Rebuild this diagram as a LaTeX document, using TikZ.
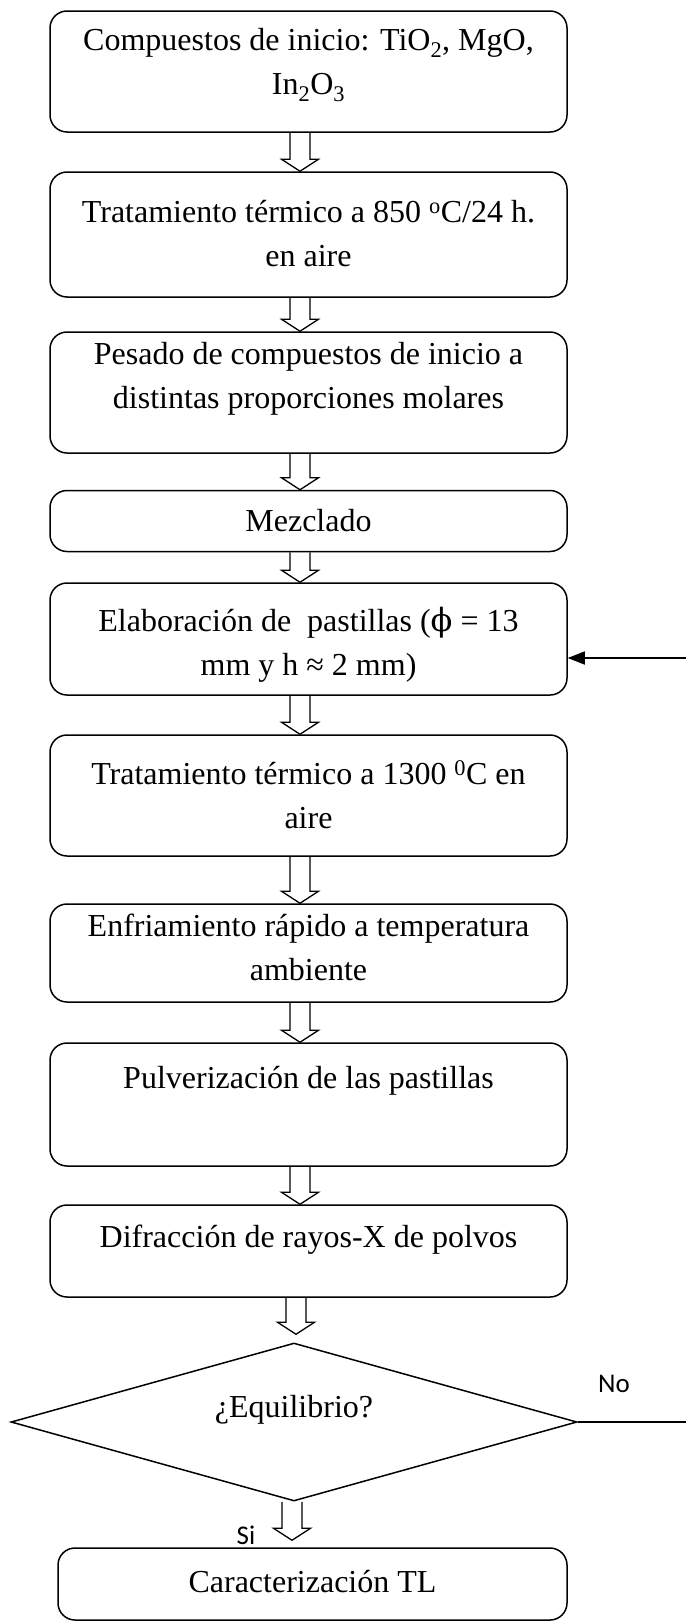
\documentclass[tikz,border=0pt]{standalone}
\usepackage{fontspec}
\setmainfont{Liberation Serif}
\newfontfamily\sansf{Carlito}
\newfontfamily\phifont{DejaVu Serif}
\usetikzlibrary{calc,arrows.meta,shapes.geometric}
\tikzset{
  box/.style={draw, line width=1.5pt, rounded corners=17pt, minimum width=517pt, inner sep=0pt},
  txt/.style={align=center, font=\fontsize{32}{44}\selectfont, inner sep=0pt},
  harrow/.style={draw, line width=1.3pt, line join=miter},
  lbl/.style={font=\sansf\fontsize{27}{32}\selectfont, inner sep=0pt},
  conn/.style={line width=1.5pt},
}
\newcommand{\harr}[4]{%
  \draw[harrow] let \p1=(#1.south), \p2=(#2.north) in
    (#3pt-10pt,\y1) -- (#3pt-10pt,\y2+#4pt+12pt) -- (#3pt-18.5pt,\y2+#4pt+12pt)
    -- (#3pt,\y2+#4pt) -- (#3pt+18.5pt,\y2+#4pt+12pt) -- (#3pt+10pt,\y2+#4pt+12pt)
    -- (#3pt+10pt,\y1);}
\begin{document}
\begin{tikzpicture}[x=1pt,y=-1pt]
\useasboundingbox (0,0) rectangle (686,1622);
% boxes
\node[box, minimum height=121pt] (b1) at (308.5,71.5) {};
\node[box, minimum height=125pt] (b2) at (308.5,234.5) {};
\node[box, minimum height=121pt] (b3) at (308.5,392.5) {};
\node[box, minimum height=61pt]  (b4) at (308.5,521) {};
\node[box, minimum height=112pt] (b5) at (308.5,639) {};
\node[box, minimum height=121pt] (b6) at (308.5,795.5) {};
\node[box, minimum height=98pt]  (b7) at (308.5,953) {};
\node[box, minimum height=123pt] (b8) at (308.5,1104.5) {};
\node[box, minimum height=92pt]  (b9) at (308.5,1251) {};
\node[draw, diamond, line width=1.5pt, minimum width=566pt, minimum height=158pt, inner sep=0pt] (d) at (294,1422) {};
\node[box, minimum width=509pt, minimum height=72pt] (b10) at (312.5,1584) {};
% texts
\node[txt] (t1) at (308.5,65) {Compuestos de inicio: TiO\textsubscript{2}, MgO,\\In\textsubscript{2}O\textsubscript{3}};
\node[txt] (t2) at (308.5,234) {Tratamiento t\'ermico a 850 \textsuperscript{o}C/24 h.\\en aire};
\node[txt] (t3) at (308.5,379) {Pesado de compuestos de inicio a\\distintas proporciones molares};
\node[txt] (t4) at (308.5,521) {Mezclado};
\node[txt] (t5) at (308.5,645) {Elaboraci\'on de\ \ pastillas ({\phifont ϕ} = 13\\mm y h ≈ 2 mm)};
\node[txt] (t6) at (308.5,795) {Tratamiento t\'ermico a 1300 \textsuperscript{0}C en\\aire};
\node[txt] (t7) at (308.5,947) {Enfriamiento r\'apido a temperatura\\ambiente};
\node[txt] (t8) at (308.5,1081) {Pulverizaci\'on de las pastillas};
\node[txt] (t9) at (308.5,1240) {Difracci\'on de rayos-X de polvos};
\node[txt] (td) at (294,1410) {¿Equilibrio?};
\node[txt] (t10) at (312.5,1582) {Caracterizaci\'on TL};
% labels
\node[lbl] (no) at (614,1384) {No};
\node[lbl] (si) at (246,1535) {Si};
% hollow arrows
\harr{b1}{b2}{300}{0}
\harr{b2}{b3}{300}{0}
\harr{b3}{b4}{300}{0}
\harr{b4}{b5}{300}{0}
\harr{b5}{b6}{300}{0}
\harr{b6}{b7}{300}{0}
\harr{b7}{b8}{300}{0}
\harr{b8}{b9}{300}{0}
\harr{b9}{d}{296}{8}
\harr{d}{b10}{292}{7}
% loop back connector
\coordinate (re1) at (686,1422);
\draw[conn] (d.east) -- (re1);
\coordinate (re2) at (686,658);
\draw[conn,-{Triangle[length=17pt,width=13pt]}] (re2) -- (re2 -| b5.east);
\end{tikzpicture}
\end{document}
